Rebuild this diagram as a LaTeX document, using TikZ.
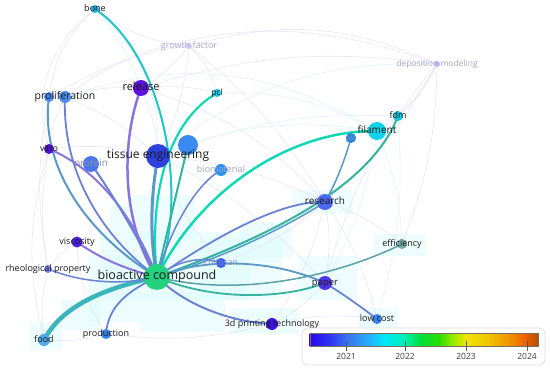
\documentclass[tikz,border=0pt]{standalone}
\usepackage{fontspec}
\setmainfont{Open Sans}
\pgfdeclarelayer{halo}
\pgfdeclarelayer{edges}
\pgfsetlayers{halo,edges,main}
\definecolor{labc}{HTML}{1A1A1A}
\definecolor{lavA}{HTML}{E2DDF8}
\definecolor{cyA}{HTML}{D4F2FA}
\definecolor{haloc}{HTML}{DDFCFC}
\definecolor{cBone}{HTML}{1EB4E8}
\definecolor{cGrowth}{HTML}{D4CCF6}
\definecolor{cRelease}{HTML}{5E12DE}
\definecolor{cProlA}{HTML}{4C86EE}
\definecolor{cProlB}{HTML}{4A8EF2}
\definecolor{cPcl}{HTML}{12C6EA}
\definecolor{cVitro}{HTML}{5412D6}
\definecolor{cProtein}{HTML}{4A78E8}
\definecolor{cTE}{HTML}{2E40DE}
\definecolor{cTEB}{HTML}{3A8AF0}
\definecolor{cBiomat}{HTML}{2A92F0}
\definecolor{cDepo}{HTML}{BEB6F6}
\definecolor{cFdm}{HTML}{12C8E4}
\definecolor{cFil}{HTML}{10D2E8}
\definecolor{cPla}{HTML}{2A84E2}
\definecolor{cRes}{HTML}{4A68F0}
\definecolor{cEff}{HTML}{78AAA4}
\definecolor{cPaper}{HTML}{4E36E8}
\definecolor{cLow}{HTML}{3A82F0}
\definecolor{cVisc}{HTML}{4A1EE0}
\definecolor{cRheo}{HTML}{7A84F0}
\definecolor{cBio}{HTML}{22D27E}
\definecolor{cChit}{HTML}{3A5EF0}
\definecolor{cFood}{HTML}{52A8E4}
\definecolor{cProd}{HTML}{3A84F0}
\definecolor{cPrint}{HTML}{3A12E2}
\definecolor{fGrowth}{HTML}{B0A8D0}
\definecolor{fDepo}{HTML}{ACA6C6}
\definecolor{fProtein}{HTML}{8A8EB0}
\definecolor{fBiomat}{HTML}{A0A8C0}
\definecolor{fChit}{HTML}{8090B8}
\definecolor{fPla}{HTML}{7090C0}
\definecolor{eTeal}{HTML}{10D8B4}
\definecolor{eBone}{HTML}{22C4C8}
\definecolor{eFood}{HTML}{3CB4BC}
\definecolor{ePurple}{HTML}{8A74E0}
\definecolor{eBlue}{HTML}{6A82D4}
\definecolor{eBlueTeal}{HTML}{5A98C8}
\definecolor{eGreen}{HTML}{34B4A0}
\definecolor{eGrey}{HTML}{5CA0A8}
\definecolor{b0}{HTML}{2808F0}
\definecolor{b1}{HTML}{3034F0}
\definecolor{b2}{HTML}{3A70F0}
\definecolor{b3}{HTML}{2AA4F8}
\definecolor{b4}{HTML}{00E8F8}
\definecolor{b5}{HTML}{00F0B0}
\definecolor{b6}{HTML}{00E040}
\definecolor{b7}{HTML}{30DC00}
\definecolor{b8}{HTML}{90EC00}
\definecolor{b9}{HTML}{F0E600}
\definecolor{b10}{HTML}{F0C000}
\definecolor{b11}{HTML}{F09000}
\definecolor{b12}{HTML}{F06000}
\definecolor{b13}{HTML}{B05000}
\definecolor{legc}{HTML}{DEDEE6}
\definecolor{barc}{HTML}{786E5A}
\definecolor{yrc}{HTML}{3C3C3C}
\begin{document}
\begin{tikzpicture}[x=1pt,y=-1pt,
  dot/.style={circle,inner sep=0pt,draw=none},
  lab/.style={inner sep=0pt,text=labc,text height=0.75em,text depth=0.22em},
  bgA/.style={draw=lavA,line width=0.6pt,draw opacity=0.75},
  bgB/.style={draw=cyA,line width=0.6pt,draw opacity=0.75},
  edge/.style={line cap=round}
]
\useasboundingbox (0,0) rectangle (550,369);
% ---------- nodes (circles) ----------
\node[dot,fill=cBone,minimum size=8pt] (bone) at (95,9) {};
\node[dot,fill=cGrowth,minimum size=6pt] (growth) at (189,46) {};
\node[dot,fill=cRelease,minimum size=16pt] (release) at (141,88) {};
\node[dot,fill=cProlA,minimum size=10pt] (prolA) at (49,97) {};
\node[dot,fill=cProlB,minimum size=12pt] (prolB) at (65,97) {};
\node[dot,fill=cPcl,minimum size=8pt] (pcl) at (217,93) {};
\node[dot,fill=cVitro,minimum size=10pt] (vitro) at (49,149) {};
\node[dot,fill=cProtein,minimum size=16pt] (protein) at (91,164) {};
\node[dot,fill=cTE,minimum size=24pt] (te) at (158,156) {};
\node[dot,fill=cTEB,minimum size=20pt] (teB) at (188,145) {};
\node[dot,fill=cBiomat,minimum size=12pt] (biomat) at (221,170) {};
\node[dot,fill=cDepo,minimum size=6pt] (depo) at (437,64) {};
\node[dot,fill=cFdm,minimum size=10pt] (fdm) at (398,116) {};
\node[dot,fill=cFil,minimum size=18pt] (filament) at (377,131) {};
\node[dot,fill=cPla,minimum size=10pt] (pla) at (351,138) {};
\node[dot,fill=cRes,minimum size=16pt] (research) at (325,202) {};
\node[dot,fill=cEff,minimum size=10pt] (eff) at (402,244) {};
\node[dot,fill=cPaper,minimum size=14pt] (paper) at (325,283) {};
\node[dot,fill=cLow,minimum size=10pt] (lowcost) at (377,319) {};
\node[dot,fill=cVisc,minimum size=11pt] (visc) at (77,242) {};
\node[dot,fill=cRheo,minimum size=8pt] (rheo) at (48,269) {};
\node[dot,fill=cBio,minimum size=26pt] (bio) at (157,277) {};
\node[dot,fill=cChit,minimum size=10pt] (chit) at (221,263) {};
\node[dot,fill=cFood,minimum size=12pt] (food) at (44,340) {};
\node[dot,fill=cProd,minimum size=10pt] (prod) at (106,334) {};
\node[dot,fill=cPrint,minimum size=12pt] (print) at (272,324) {};
% ---------- labels ----------
\node[lab,font=\fontsize{9}{10}\selectfont] (boneL) at (95,9) {bone};
\node[lab,text=fGrowth,font=\fontsize{9}{10}\selectfont] (growthL) at (189,46) {growth factor};
\node[lab,font=\fontsize{11}{12}\selectfont] (releaseL) at (141,88) {release};
\node[lab,font=\fontsize{10.5}{12}\selectfont] (prolL) at (65,97) {proliferation};
\node[lab,font=\fontsize{8.5}{10}\selectfont] (pclL) at (217,93) {pcl};
\node[lab,font=\fontsize{8.5}{10}\selectfont] (vitroL) at (49,149) {vitro};
\node[lab,text=fProtein,font=\fontsize{10}{11}\selectfont] (proteinL) at (91,164) {protein};
\node[lab,font=\fontsize{12}{13}\selectfont] (teL) at (158,156) {tissue engineering};
\node[lab,text=fBiomat,font=\fontsize{9}{10}\selectfont] (biomatL) at (221,170) {biomaterial};
\node[lab,text=fDepo,font=\fontsize{8.5}{10}\selectfont] (depoL) at (437,64) {deposition modeling};
\node[lab,font=\fontsize{9}{10}\selectfont] (fdmL) at (398,116) {fdm};
\node[lab,font=\fontsize{10}{11}\selectfont] (filL) at (377,131) {filament};
\node[lab,text=fPla,font=\fontsize{8}{9}\selectfont] (plaL) at (351,138) {pla};
\node[lab,font=\fontsize{10}{11}\selectfont] (resL) at (325,202) {research};
\node[lab,font=\fontsize{9}{10}\selectfont] (effL) at (402,244) {efficiency};
\node[lab,font=\fontsize{9.5}{10}\selectfont] (paperL) at (325,283) {paper};
\node[lab,font=\fontsize{9}{10}\selectfont] (lowL) at (377,319) {low cost};
\node[lab,font=\fontsize{9}{10}\selectfont] (viscL) at (77,242) {viscosity};
\node[lab,font=\fontsize{9}{10}\selectfont] (rheoL) at (48,269) {rheological property};
\node[lab,font=\fontsize{12.5}{14}\selectfont] (bioL) at (157,277) {bioactive compound};
\node[lab,text=fChit,font=\fontsize{8.5}{10}\selectfont] (chitL) at (221,263) {chitosan};
\node[lab,font=\fontsize{9}{10}\selectfont] (foodL) at (44,340) {food};
\node[lab,font=\fontsize{9}{10}\selectfont] (prodL) at (106,334) {production};
\node[lab,font=\fontsize{9}{10}\selectfont] (printL) at (272,324) {3d printing technology};
% ---------- halo ----------
\begin{pgfonlayer}{halo}
\fill[white] (0,0) rectangle (550,369);
\begin{scope}[fill=haloc,opacity=0.5]
\fill (130,195) rectangle (195,240);
\fill (100,232) rectangle (250,300);
\fill (88,255) rectangle (140,322);
\fill (140,292) rectangle (225,332);
\fill (200,238) rectangle (282,300);
\fill (240,222) rectangle (292,258);
\fill (30,322) rectangle (62,350);
\fill (62,300) rectangle (100,330);
\fill (292,190) rectangle (352,214);
\fill (298,256) rectangle (358,300);
\fill (374,234) rectangle (426,256);
\fill (358,308) rectangle (398,328);
\fill (230,308) rectangle (298,334);
\fill (110,205) rectangle (130,232);
\end{scope}
\end{pgfonlayer}
% ---------- edges ----------
\begin{pgfonlayer}{edges}
% faint background links
\draw[bgA] (bone.center) to[bend right=15] (growth.center);
\draw[bgA] (bone.center) to[bend right=20] (prolA.center);
\draw[bgB] (bone.center) to[bend left=10] (release.center);
\draw[bgA] (bone.center) to[bend right=35] (vitro.center);
\draw[bgB] (bone.center) to[bend left=25] (te.center);
\draw[bgA] (growth.center) to[bend left=10] (release.center);
\draw[bgA] (growth.center) to[bend left=20] (depo.center);
\draw[bgA] (growth.center) to[bend right=15] (prolB.center);
\draw[bgA] (growth.center) to[bend left=10] (te.center);
\draw[bgA] (growth.center) to[bend left=15] (pcl.center);
\draw[bgA] (growth.center) to[bend left=10] (research.center);
\draw[bgA] (depo.center) to[bend left=10] (fdm.center);
\draw[bgA] (depo.center) to[bend left=15] (filament.center);
\draw[bgA] (depo.center) to[bend left=10] (research.center);
\draw[bgA] (depo.center) to[bend right=25] (prolA.center);
\draw[bgA] (depo.center) to[bend right=12] (release.center);
\draw[bgA] (depo.center) to[bend right=12] (paper.center);
\draw[bgA] (depo.center) to[bend left=10] (eff.center);
\draw[bgB] (depo.center) to[bend right=20] (te.center);
\draw[bgB] (pcl.center) to[bend left=15] (filament.center);
\draw[bgB] (pcl.center) to[bend right=10] (te.center);
\draw[bgA] (prolB.center) to[bend right=10] (vitro.center);
\draw[bgA] (prolB.center) to[bend left=10] (release.center);
\draw[bgA] (prolB.center) to[bend left=10] (te.center);
\draw[bgB] (prolB.center) to[bend left=25] (filament.center);
\draw[bgA] (release.center) to[bend left=10] (te.center);
\draw[bgA] (release.center) to[bend left=10] (pcl.center);
\draw[bgA] (release.center) to[bend left=15] (research.center);
\draw[bgA] (vitro.center) to[bend left=10] (te.center);
\draw[bgA] (vitro.center) to[bend right=15] (food.center);
\draw[bgA] (vitro.center) to[bend right=10] (rheo.center);
\draw[bgB] (te.center) to[bend left=15] (filament.center);
\draw[bgA] (te.center) to[bend left=10] (research.center);
\draw[bgA] (te.center) to[bend left=10] (paper.center);
\draw[bgB] (teB.center) to[bend left=10] (fdm.center);
\draw[bgA] (research.center) to[bend left=10] (paper.center);
\draw[bgA] (research.center) to[bend left=10] (eff.center);
\draw[bgA] (research.center) to[bend left=10] (lowcost.center);
\draw[bgB] (filament.center) to[bend left=10] (paper.center);
\draw[bgB] (filament.center) to[bend left=10] (eff.center);
\draw[bgB] (fdm.center) to[bend left=10] (lowcost.center);
\draw[bgA] (rheo.center) to[bend left=10] (visc.center);
\draw[bgA] (rheo.center) to[bend right=10] (food.center);
\draw[bgA] (visc.center) to[bend right=15] (prod.center);
\draw[bgA] (print.center) to[bend right=10] (paper.center);
\draw[bgA] (print.center) to[bend left=10] (prod.center);
\draw[bgA] (print.center) to[bend right=10] (research.center);
\draw[bgA] (print.center) to[bend left=10] (lowcost.center);
\draw[bgA] (chit.center) to[bend left=10] (paper.center);
\draw[bgA] (chit.center) to[bend right=10] (research.center);
\draw[bgA] (chit.center) to[bend left=10] (te.center);
\draw[bgA] (prod.center) to[bend left=10] (food.center);
\draw[bgA] (prolA.center) to[bend right=10] (rheo.center);
% prominent links of bioactive compound
\draw[edge,draw=eFood,line width=4.5pt] (bio.center) .. controls (95,290) and (60,310) .. (food.center);
\draw[edge,draw=eBlue,line width=1.8pt] (bio.center) .. controls (130,290) and (108,305) .. (prod.center);
\draw[edge,draw=eBlue,line width=1.5pt] (bio.center) .. controls (120,286) and (80,282) .. (rheo.center);
\draw[edge,draw=ePurple,line width=2pt] (bio.center) .. controls (120,268) and (95,255) .. (visc.center);
\draw[edge,draw=ePurple,line width=2pt] (vitro.center) .. controls (100,170) and (135,220) .. (bio.center);
\draw[edge,draw=eBlueTeal,line width=2pt] (prolA.center) .. controls (40,160) and (80,230) .. (bio.center);
\draw[edge,draw=eBlue,line width=1.8pt] (prolB.center) .. controls (62,170) and (100,235) .. (bio.center);
\draw[edge,draw=ePurple,line width=2.5pt] (release.center) .. controls (118,150) and (125,230) .. (bio.center);
\draw[edge,draw=eBlue,line width=2pt] (protein.center) .. controls (110,190) and (140,240) .. (bio.center);
\draw[edge,draw=eBone,line width=2pt] (bone.center) .. controls (165,55) and (190,200) .. (bio.center);
\draw[edge,draw=eTeal,line width=2.2pt] (pcl.center) .. controls (170,120) and (148,190) .. (bio.center);
\draw[edge,draw=eBlueTeal,line width=3pt] (te.center) .. controls (150,200) and (150,240) .. (bio.center);
\draw[edge,draw=eGreen,line width=2pt] (teB.center) .. controls (175,200) and (165,240) .. (bio.center);
\draw[edge,draw=eTeal,line width=2.5pt] (filament.center) .. controls (290,130) and (200,190) .. (bio.center);
\draw[edge,draw=eGreen,line width=2pt] (fdm.center) .. controls (370,190) and (260,240) .. (bio.center);
\draw[edge,draw=eBlueTeal,line width=1.5pt] (pla.center) .. controls (345,160) and (335,185) .. (research.center);
\draw[edge,draw=eBlue,line width=1.8pt] (research.center) .. controls (280,200) and (210,240) .. (bio.center);
\draw[edge,draw=eBlueTeal,line width=1.5pt] (research.center) .. controls (290,225) and (220,260) .. (bio.center);
\draw[edge,draw=eBlue,line width=1.5pt] (biomat.center) .. controls (195,185) and (170,230) .. (bio.center);
\draw[edge,draw=eBlue,line width=1.5pt] (chit.center) .. controls (200,255) and (175,262) .. (bio.center);
\draw[edge,draw=eBlueTeal,line width=1.8pt] (bio.center) .. controls (210,255) and (280,262) .. (paper.center);
\draw[edge,draw=eGreen,line width=1.8pt] (bio.center) .. controls (210,300) and (280,300) .. (paper.center);
\draw[edge,draw=eGrey,line width=1.5pt] (eff.center) .. controls (350,270) and (250,300) .. (bio.center);
\draw[edge,draw=eBlue,line width=1.8pt] (paper.center) .. controls (345,295) and (365,310) .. (lowcost.center);
\draw[edge,draw=eBlue,line width=2pt] (bio.center) .. controls (185,305) and (230,322) .. (print.center);
\end{pgfonlayer}
% ---------- legend ----------
\node[draw=legc,fill=white,rounded corners=6pt,line width=0.8pt,
  minimum width=243pt,minimum height=37pt,inner sep=0pt] (legend) at (423.5,346.5) {};
\foreach \xa/\xb/\ca/\cb in {310/330/b0/b1,330/346/b1/b2,346/365/b2/b3,365/385/b3/b4,385/405/b4/b5,
  405/420/b5/b6,420/440/b6/b7,440/452/b7/b8,452/466/b8/b9,466/490/b9/b10,490/510/b10/b11,
  510/525/b11/b12,525/538/b12/b13}
  {\shade[left color=\ca,right color=\cb] (\xa-0.4,333) rectangle (\xb+0.4,346);}
\node[draw=barc,line width=0.5pt,minimum width=228pt,minimum height=13pt,inner sep=0pt] (bar) at (424,339.5) {};
\foreach \x/\yr in {346/2021,405/2022,466/2023,527/2024}{
  \draw[gray!70!black,line width=0.5pt] (\x,341) -- (\x,351);
  \node[lab,text=yrc,font=\fontsize{8.5}{10}\selectfont] (yr\yr) at (\x,357) {\yr};
}
\end{tikzpicture}
\end{document}
